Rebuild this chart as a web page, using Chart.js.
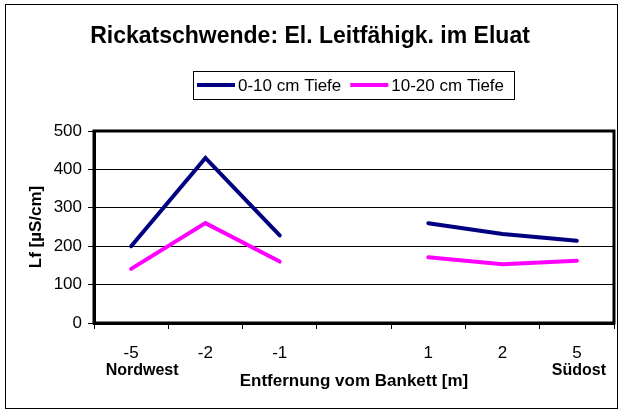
<!DOCTYPE html>
<html>
<head>
<meta charset="utf-8">
<script src="https://cdn.jsdelivr.net/npm/chart.js@4"></script>
<style>
  html, body { margin: 0; padding: 0; background: #fff; }
  canvas { display: block; }
</style>
</head>
<body>
<canvas id="c" width="621" height="412"></canvas>
<script>
const chartTitle = 'Rickatschwende: El. Leitfähigk. im Eluat';
const categories = ['-5', '-2', '-1', '', '1', '2', '5'];
const seriesNames = ['0-10 cm Tiefe', '10-20 cm Tiefe'];
const depth0to10 = [200, 430, 228, null, 260, 232, 214];
const depth10to20 = [141, 260, 160, null, 171, 153, 162];
const yTicks = [0, 100, 200, 300, 400, 500];
const sideLabels = ['Nordwest', 'Südost'];
const xTitle = 'Entfernung vom Bankett [m]';
const yTitle = 'Lf [µS/cm]';

const FONT = "'Liberation Sans', Arial, sans-serif";
Chart.defaults.font.family = FONT;
Chart.defaults.color = '#000';

const decorPlugin = {
  id: 'decor',
  beforeDraw(chart) {
    const ctx = chart.ctx;
    ctx.save();
    ctx.fillStyle = '#fff';
    ctx.fillRect(0, 0, chart.width, chart.height);
    ctx.strokeStyle = '#000';
    ctx.lineWidth = 1;
    ctx.strokeRect(5.5, 4.5, 612, 404);
    ctx.restore();
  },
  afterDraw(chart) {
    const ctx = chart.ctx;
    const a = chart.chartArea;
    ctx.save();
    // plot border
    ctx.strokeStyle = '#000';
    ctx.lineWidth = 3;
    ctx.strokeRect(a.left, a.top, a.right - a.left, a.bottom - a.top);
    // title
    ctx.fillStyle = '#000';
    ctx.font = "bold 23px " + FONT;
    ctx.textAlign = 'center';
    ctx.textBaseline = 'alphabetic';
    ctx.fillText(chartTitle, 310, 43);
    // legend
    const ds = chart.data.datasets;
    ctx.font = "17px " + FONT;
    ctx.textAlign = 'left';
    ctx.textBaseline = 'middle';
    let x = 197;
    const y = 85;
    const lineLen = 38;
    ds.forEach((d, i) => {
      ctx.strokeStyle = d.borderColor;
      ctx.lineWidth = 4;
      ctx.lineCap = 'butt';
      ctx.beginPath();
      ctx.moveTo(x, y);
      ctx.lineTo(x + lineLen, y);
      ctx.stroke();
      x += lineLen + 3;
      ctx.fillStyle = '#000';
      ctx.fillText(d.label, x, y + 1);
      x += ctx.measureText(d.label).width + 9;
    });
    ctx.strokeStyle = '#000';
    ctx.lineWidth = 1;
    ctx.strokeRect(193.5, 71.5, 321, 28);
    // side labels under x ticks
    const xs = chart.scales.x;
    ctx.font = "bold 16px " + FONT;
    ctx.textAlign = 'center';
    ctx.textBaseline = 'middle';
    ctx.fillText(sideLabels[0], xs.getPixelForValue(0) + 11, 371);
    ctx.fillText(sideLabels[1], xs.getPixelForValue(categories.length - 1) + 2, 371);
    ctx.restore();
  }
};

new Chart(document.getElementById('c'), {
  type: 'line',
  data: {
    labels: categories,
    datasets: [
      { label: seriesNames[0], data: depth0to10, borderColor: '#000080', backgroundColor: '#000080' },
      { label: seriesNames[1], data: depth10to20, borderColor: '#FF00FF', backgroundColor: '#FF00FF' }
    ]
  },
  options: {
    responsive: false,
    animation: false,
    spanGaps: false,
    layout: { padding: { top: 131, right: 7, left: 0, bottom: 0 } },
    elements: {
      line: { tension: 0, borderWidth: 4, borderCapStyle: 'round', borderJoinStyle: 'miter' },
      point: { radius: 0, hoverRadius: 0 }
    },
    plugins: {
      legend: { display: false },
      title: { display: false },
      tooltip: { enabled: false }
    },
    scales: {
      x: {
        type: 'category',
        offset: true,
        grid: { offset: true, drawOnChartArea: false, drawTicks: true, tickLength: 6, color: '#000', lineWidth: 1 },
        border: { display: true, color: '#000', width: 3 },
        ticks: { font: { size: 17 }, color: '#000', padding: 14, maxRotation: 0, autoSkip: false },
        title: { display: true, text: xTitle, font: { size: 17, weight: 'bold' }, color: '#000', padding: { top: 0, bottom: 20 } },
        afterFit(scale) { scale.height = 89; }
      },
      y: {
        min: 0,
        max: 500,
        afterBuildTicks(scale) { scale.ticks = yTicks.map(v => ({ value: v })); },
        grid: { color: '#000', lineWidth: 1, drawTicks: true, tickLength: 6 },
        border: { display: true, color: '#000', width: 3 },
        ticks: { font: { size: 17 }, color: '#000', padding: 6 },
        title: { display: true, text: yTitle, font: { size: 17, weight: 'bold' }, color: '#000', padding: { top: 26, bottom: 0 } },
        afterFit(scale) { scale.width = 94; }
      }
    }
  },
  plugins: [decorPlugin]
});
</script>
</body>
</html>
